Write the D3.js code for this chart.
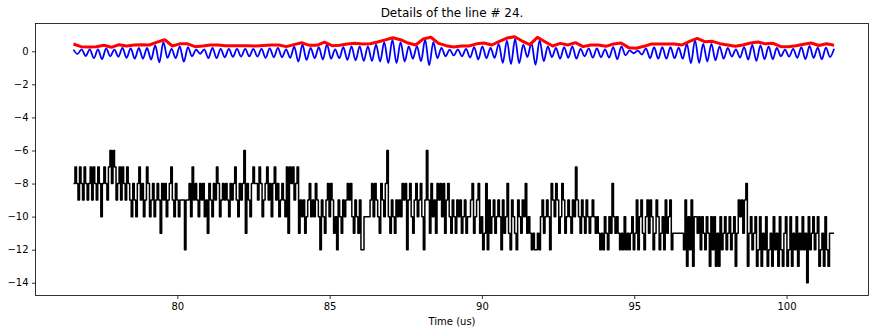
<!DOCTYPE html>
<html>
<head>
<meta charset="utf-8">
<script src="https://cdn.jsdelivr.net/npm/d3@7"></script>
<style>
html,body{margin:0;padding:0;background:#fff;}
svg{display:block;font-family:"DejaVu Sans",sans-serif;}
</style>
</head>
<body>
<svg id="chart" width="883" height="333"></svg>
<script>
const titleText = "Details of the line # 24.";
const xLabel = "Time (us)";
const xTicks = [80, 85, 90, 95, 100];
const yTicks = [0, -2, -4, -6, -8, -10, -12, -14];
const timeStart = 76.59;
const timeEnd = 101.56;

// black stepped signal (uniformly sampled between timeStart and timeEnd)
const blackValues = [
-8,-7,-8,-9,-7,-8,-9,-7,-8,-9,-8,-7,-9,-7,-8,-9,-7,-8,-10,-8,
-7,-8,-9,-7,-6,-8,-6,-7,-9,-8,-7,-9,-7,-8,-9,-7,-8,-9,-10,-8,
-9,-10,-8,-7,-9,-8,-10,-9,-7,-8,-10,-9,-8,-10,-9,-8,-9,-11,-8,-9,
-8,-10,-9,-8,-7,-9,-10,-8,-9,-10,-9,-9,-9,-12,-9,-9,-8,-10,-7,-9,
-8,-9,-10,-8,-9,-8,-10,-9,-11,-8,-9,-10,-8,-9,-7,-8,-10,-9,-8,-9,
-8,-9,-10,-8,-9,-8,-7,-9,-10,-8,-9,-8,-6,-11,-8,-9,-10,-8,-7,-8,
-8,-9,-7,-8,-10,-9,-8,-7,-9,-8,-10,-8,-7,-9,-8,-10,-9,-8,-9,-10,
-7,-11,-7,-8,-7,-9,-8,-7,-11,-9,-10,-9,-11,-10,-9,-8,-10,-9,-10,-8,
-9,-10,-12,-9,-10,-11,-9,-8,-10,-8,-9,-11,-10,-12,-9,-10,-11,-9,-10,-9,
-8,-9,-8,-10,-11,-9,-10,-11,-9,-12,-12,-10,-10,-10,-10,-9,-8,-10,-8,-9,
-10,-11,-8,-9,-10,-8,-6,-10,-11,-9,-10,-11,-9,-10,-9,-10,-8,-9,-8,-12,
-9,-8,-10,-11,-9,-8,-10,-9,-8,-10,-12,-9,-6,-9,-11,-8,-10,-9,-11,-8,
-9,-8,-10,-8,-11,-9,-8,-10,-11,-9,-10,-11,-9,-10,-9,-11,-10,-9,-11,-10,
-10,-9,-8,-11,-10,-9,-8,-11,-10,-12,-11,-8,-12,-9,-11,-10,-9,-11,-10,-9,
-10,-12,-9,-11,-10,-8,-11,-12,-9,-10,-11,-12,-9,-10,-11,-9,-10,-8,-11,-10,
-11,-12,-11,-12,-12,-11,-12,-10,-9,-11,-10,-9,-10,-12,-8,-9,-10,-8,-9,-11,
-10,-8,-9,-11,-10,-9,-10,-11,-9,-10,-7,-9,-10,-11,-9,-10,-11,-9,-10,-11,
-10,-9,-10,-11,-10,-11,-12,-11,-12,-10,-11,-12,-10,-11,-8,-10,-11,-10,-11,-12,
-11,-12,-10,-12,-11,-12,-11,-10,-12,-11,-9,-12,-10,-9,-11,-12,-10,-9,-11,-9,
-10,-12,-11,-9,-10,-12,-11,-10,-12,-9,-11,-10,-9,-12,-11,-11,-11,-11,-11,-11,
-11,-12,-9,-13,-10,-12,-9,-13,-10,-10,-11,-10,-12,-10,-11,-12,-10,-11,-13,-10,
-12,-10,-13,-11,-13,-10,-12,-11,-10,-12,-11,-10,-12,-11,-10,-13,-11,-9,-10,-9,
-11,-9,-8,-13,-11,-10,-12,-11,-10,-13,-12,-10,-13,-11,-12,-10,-13,-12,-11,-13,
-10,-12,-11,-13,-10,-12,-13,-11,-10,-13,-12,-10,-13,-11,-12,-10,-13,-11,-12,-10,
-12,-11,-14,-10,-12,-11,-10,-12,-11,-10,-13,-12,-11,-13,-10,-12,-13,-11,-11,-11,-11
];

// blue oscillating signal: successive half-period extrema
const blueValues = [
0.10,-0.16,0.12,-0.28,0.12,-0.42,0.12,-0.48,0.18,-0.30,
0.10,-0.33,0.20,-0.40,0.18,-0.45,0.20,-0.45,0.20,-0.50,
0.35,-0.67,0.55,-0.40,0.15,-0.42,0.30,-0.63,0.25,-0.30,
0.10,-0.15,0.12,-0.42,0.20,-0.42,0.15,-0.36,0.14,-0.33,
0.14,-0.32,0.14,-0.30,0.14,-0.32,0.14,-0.40,0.18,-0.36,
0.20,-0.36,0.12,-0.40,0.28,-0.62,0.40,-0.52,0.20,-0.42,
0.25,-0.50,0.42,-0.45,0.12,-0.42,0.25,-0.52,0.30,-0.55,
0.30,-0.58,0.30,-0.58,0.40,-0.62,0.55,-0.72,0.70,-0.72,
0.55,-0.62,0.30,-0.45,0.30,-0.60,0.72,-0.85,0.55,-0.42,
0.20,-0.30,0.10,-0.25,0.12,-0.30,0.14,-0.38,0.25,-0.50,
0.30,-0.42,0.20,-0.40,0.45,-0.70,0.65,-0.78,0.75,-0.72,
0.40,-0.35,0.50,-0.82,0.68,-0.60,0.30,-0.35,0.20,-0.45,
0.25,-0.40,0.30,-0.45,0.15,-0.30,0.18,-0.38,0.18,-0.36,
0.12,-0.38,0.25,-0.48,0.30,-0.25,0.05,-0.12,0.04,-0.20,
0.18,-0.42,0.25,-0.45,0.25,-0.45,0.25,-0.42,0.22,-0.45,
0.45,-0.72,0.68,-0.70,0.45,-0.62,0.45,-0.55,0.30,-0.45,
0.20,-0.32,0.12,-0.38,0.25,-0.50,0.38,-0.58,0.35,-0.48,
0.30,-0.48,0.20,-0.30,0.10,-0.32,0.15,-0.40,0.25,-0.48,
0.32,-0.40,0.22,-0.48,0.22,-0.35,0.15
];

// red envelope
const redValues = [
0.44,0.28,0.26,0.28,0.36,0.24,0.40,0.32,0.38,0.40,
0.38,0.55,0.70,0.32,0.45,0.45,0.28,0.32,0.38,0.38,
0.34,0.34,0.33,0.34,0.32,0.35,0.38,0.38,0.28,0.40,
0.52,0.36,0.36,0.55,0.34,0.36,0.44,0.48,0.44,0.46,
0.56,0.69,0.82,0.70,0.50,0.38,0.75,0.85,0.48,0.34,
0.26,0.32,0.32,0.45,0.50,0.38,0.60,0.80,0.88,0.62,
0.40,0.84,0.58,0.32,0.48,0.38,0.52,0.28,0.38,0.38,
0.30,0.44,0.50,0.22,0.18,0.30,0.44,0.44,0.44,0.44,
0.38,0.60,0.78,0.58,0.60,0.46,0.38,0.30,0.38,0.50,
0.56,0.45,0.48,0.28,0.28,0.34,0.42,0.50,0.35,0.45,
0.36
];

const svg = d3.select("#chart");
const L = 35.5, R = 868.5, T = 23.5, B = 295.5;

const x = d3.scaleLinear().domain([75.345, 102.69]).range([L, R]);
const y = d3.scaleLinear().domain([1.68, -14.77]).range([T, B]);

function toPoints(vals) {
  const n = vals.length;
  return vals.map((v, i) => [timeStart + i * (timeEnd - timeStart) / (n - 1), v]);
}

svg.append("clipPath").attr("id", "clip")
  .append("rect").attr("x", L).attr("y", T).attr("width", R - L).attr("height", B - T);

const g = svg.append("g").attr("clip-path", "url(#clip)");

const lineStep = d3.line().x(d => x(d[0])).y(d => y(d[1])).curve(d3.curveStepAfter);
const lineLin = d3.line().x(d => x(d[0])).y(d => y(d[1]));
const lineSmooth = d3.line().x(d => x(d[0])).y(d => y(d[1])).curve(d3.curveMonotoneX);

g.append("path").datum(toPoints(blackValues))
  .attr("d", lineStep).attr("fill", "none").attr("stroke", "#000")
  .attr("stroke-width", 1.5).attr("stroke-linejoin", "round");

g.append("path").datum(toPoints(blueValues))
  .attr("d", lineSmooth).attr("fill", "none").attr("stroke", "#0000ff")
  .attr("stroke-width", 1.8).attr("stroke-linejoin", "round");

g.append("path").datum(toPoints(redValues))
  .attr("d", lineLin).attr("fill", "none").attr("stroke", "#ff0000")
  .attr("stroke-width", 3).attr("stroke-linejoin", "round");

const fmt = v => (v < 0 ? "\u2212" + Math.abs(v) : String(v));

const xAxis = svg.append("g").attr("transform", `translate(0,${B})`)
  .call(d3.axisBottom(x).tickValues(xTicks).tickFormat(fmt).tickSizeOuter(0).tickSize(3.5).tickPadding(3.5));
const yAxis = svg.append("g").attr("transform", `translate(${L},0)`)
  .call(d3.axisLeft(y).tickValues(yTicks).tickFormat(fmt).tickSizeOuter(0).tickSize(3.5).tickPadding(3.5));

[xAxis, yAxis].forEach(a => {
  a.select(".domain").remove();
  a.selectAll("line").attr("stroke", "#000").attr("stroke-width", 0.8);
  a.selectAll("text").attr("fill", "#000").style("font-size", "10px").style("font-family", "DejaVu Sans, sans-serif");
});

svg.append("rect").attr("x", L).attr("y", T).attr("width", R - L).attr("height", B - T)
  .attr("fill", "none").attr("stroke", "#000").attr("stroke-width", 0.8);

svg.append("text").attr("x", (L + R) / 2).attr("y", 17).attr("text-anchor", "middle")
  .style("font-size", "12px").attr("fill", "#000").text(titleText);

svg.append("text").attr("x", (L + R) / 2).attr("y", 325).attr("text-anchor", "middle")
  .style("font-size", "10px").attr("fill", "#000").text(xLabel);
</script>
</body>
</html>
